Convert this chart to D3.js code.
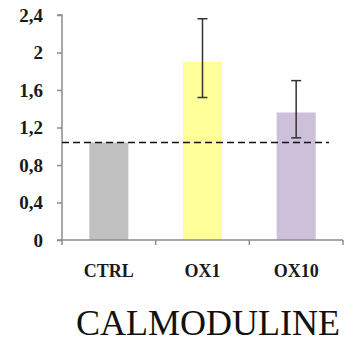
<!DOCTYPE html>
<html>
<head>
<meta charset="utf-8">
<script src="https://cdn.jsdelivr.net/npm/d3@7"></script>
<style>
  html, body { margin: 0; padding: 0; background: #fff; }
  svg { display: block; }
</style>
</head>
<body>
<svg id="chart" width="355" height="343"></svg>
<script>
// Relative expression per condition
const categories = ["CTRL", "OX1", "OX10"];
const values = [1.04, 1.90, 1.36];
const errHigh = [null, 2.36, 1.70];
const errLow = [null, 1.52, 1.09];
const colors = ["#c0c0c0", "#ffff99", "#ccc0da"];
const yTicks = [0, 0.4, 0.8, 1.2, 1.6, 2, 2.4];
const refLevel = 1.04;
const title = "CALMODULINE";

const svg = d3.select("#chart");
const plotLeft = 62, plotRight = 343, plotTop = 15, plotBottom = 240;

const x = d3.scaleBand().domain(categories).range([plotLeft, plotRight]).paddingInner(0).paddingOuter(0);
const y = d3.scaleLinear().domain([0, 2.4]).range([plotBottom, plotTop]);
const barW = 39;

const font = "'Liberation Serif', 'Times New Roman', serif";

// Bars
svg.selectAll("rect.bar").data(categories).join("rect")
  .attr("class", "bar")
  .attr("x", d => x(d) + x.bandwidth() / 2 - barW / 2)
  .attr("width", barW)
  .attr("y", (d, i) => y(values[i]))
  .attr("height", (d, i) => y(0) - y(values[i]))
  .attr("fill", (d, i) => colors[i]);

// Y axis
const yAxis = d3.axisLeft(y).tickValues(yTicks).tickSize(5).tickPadding(14)
  .tickFormat(d => String(d).replace(".", ","));
const gy = svg.append("g").attr("transform", `translate(${plotLeft},0)`).call(yAxis);
gy.attr("font-family", null);
gy.select(".domain").attr("stroke", "#8c8c8c").attr("stroke-width", 1.5).attr("d", `M-5,${plotTop}H0V${plotBottom}`);
gy.selectAll(".tick line").attr("stroke", "#8c8c8c").attr("stroke-width", 1.5);
gy.selectAll(".tick text")
  .style("font-family", font).style("font-size", "19px").style("font-weight", "bold")
  .attr("fill", "#1a1a1a");

// X axis with tick marks at band boundaries
svg.append("line").attr("x1", plotLeft - 5).attr("x2", plotRight).attr("y1", plotBottom).attr("y2", plotBottom)
  .attr("stroke", "#8c8c8c").attr("stroke-width", 1.5);
const bounds = categories.map(c => x(c)).concat([x(categories[categories.length - 1]) + x.bandwidth()]);
svg.selectAll("line.xt").data(bounds).join("line")
  .attr("class", "xt")
  .attr("x1", d => d).attr("x2", d => d)
  .attr("y1", plotBottom).attr("y2", plotBottom + 5)
  .attr("stroke", "#8c8c8c").attr("stroke-width", 1.5);
svg.selectAll("text.xl").data(categories).join("text")
  .attr("class", "xl")
  .attr("x", d => x(d) + x.bandwidth() / 2)
  .attr("y", 277)
  .attr("text-anchor", "middle")
  .style("font-family", font).style("font-size", "18px").style("font-weight", "bold")
  .attr("fill", "#1a1a1a")
  .text(d => d);

// Error bars
const errData = categories.map((c, i) => ({ c, hi: errHigh[i], lo: errLow[i] })).filter(d => d.hi != null);
const eg = svg.append("g").attr("stroke", "#333").attr("stroke-width", 1.5);
errData.forEach(d => {
  const cx = x(d.c) + x.bandwidth() / 2;
  eg.append("line").attr("x1", cx).attr("x2", cx).attr("y1", y(d.hi)).attr("y2", y(d.lo));
  eg.append("line").attr("x1", cx - 5).attr("x2", cx + 5).attr("y1", y(d.hi)).attr("y2", y(d.hi));
  eg.append("line").attr("x1", cx - 5).attr("x2", cx + 5).attr("y1", y(d.lo)).attr("y2", y(d.lo));
});

// Reference dashed line
svg.append("line")
  .attr("x1", plotLeft).attr("x2", 329)
  .attr("y1", y(refLevel)).attr("y2", y(refLevel))
  .attr("stroke", "#111").attr("stroke-width", 1.5)
  .attr("stroke-dasharray", "7,4");

// Title
svg.append("text")
  .attr("x", 208).attr("y", 335)
  .attr("text-anchor", "middle")
  .style("font-family", font).style("font-size", "36px")
  .attr("fill", "#111")
  .text(title);
</script>
</body>
</html>
